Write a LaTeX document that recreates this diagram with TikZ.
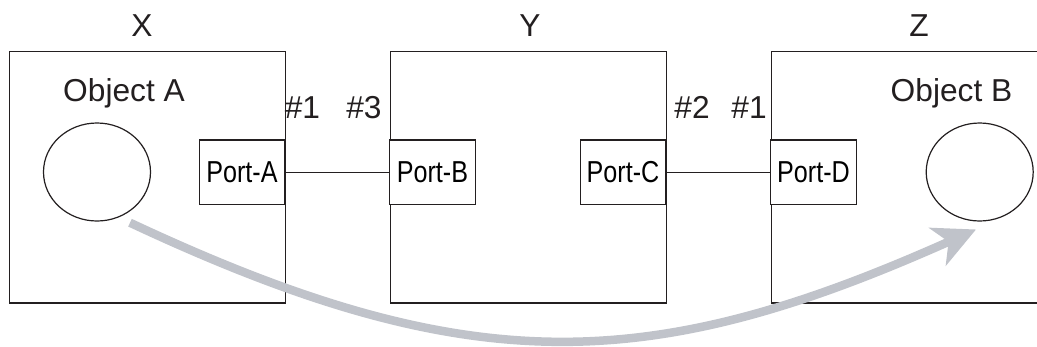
\documentclass[tikz,border=0pt]{standalone}
\usepackage{fontspec}
\setmainfont{Liberation Sans}
\newfontfamily\condfont[FakeStretch=0.83]{Liberation Sans}
\usetikzlibrary{arrows.meta}
\definecolor{flowgrey}{HTML}{C0C3CA}
\definecolor{ink}{HTML}{231F20}
\tikzset{
  frame/.style={draw=ink, line width=1.2pt, minimum width=276.5pt, minimum height=251.6pt, inner sep=0pt, anchor=north west},
  portbox/.style={draw=ink, fill=white, line width=1.2pt, minimum width=85.7pt, minimum height=64.7pt, inner sep=0pt, font=\condfont\fontsize{30.3}{32}\selectfont},
  obj/.style={draw=ink, line width=1.2pt, ellipse, minimum width=107pt, minimum height=98pt, inner sep=0pt},
  lbl/.style={font=\fontsize{31.7}{34}\selectfont, text=ink, inner sep=0pt, anchor=base},
  wire/.style={draw=ink, line width=1.1pt},
  flow/.style={draw=flowgrey, line width=8.5pt, -{Stealth[length=42pt, width=41pt, inset=12pt]}}
}
\usetikzlibrary{shapes.geometric}
\begin{document}
\begin{tikzpicture}[x=1pt, y=-1pt]
\clip (0,0) rectangle (1037,346);
% frames
\node[frame] (X) at (8.5,50.7) {};
\node[frame] (Y) at (389.5,50.7) {};
\node[frame] (Z) at (771,50.7) {};
% titles
\node[lbl] (tX) at (142,36.7) {X};
\node[lbl] (tY) at (530,36.7) {Y};
\node[lbl] (tZ) at (919,36.7) {Z};
\node[lbl] (oA) at (124,101.7) {Object A};
\node[lbl] (oB) at (951.5,101.7) {Object B};
% port numbers
\node[lbl] (n1a) at (302.5,118.5) {\#1};
\node[lbl] (n3) at (364,118.5) {\#3};
\node[lbl] (n2) at (692,118.5) {\#2};
\node[lbl] (n1b) at (749,118.5) {\#1};
% ports
\node[portbox] (pA) at (242,172.3) {Port-A};
\node[portbox] (pB) at (432.4,172.3) {Port-B};
\node[portbox] (pC) at (623,172.3) {Port-C};
\node[portbox] (pD) at (813.5,172.3) {Port-D};
\draw[wire] (pA.east) -- (pB.west);
\draw[wire] (pC.east) -- (pD.west);
% objects
\node[obj] (cA) at (97,172) {};
\node[obj] (cB) at (979.7,172) {};
% flow arrow
\coordinate (fs) at (130,222.7);
\coordinate (fe) at (976,229.5);
\draw[flow] (fs) .. controls (470,382) and (650,375) .. (fe);
\end{tikzpicture}
\end{document}
